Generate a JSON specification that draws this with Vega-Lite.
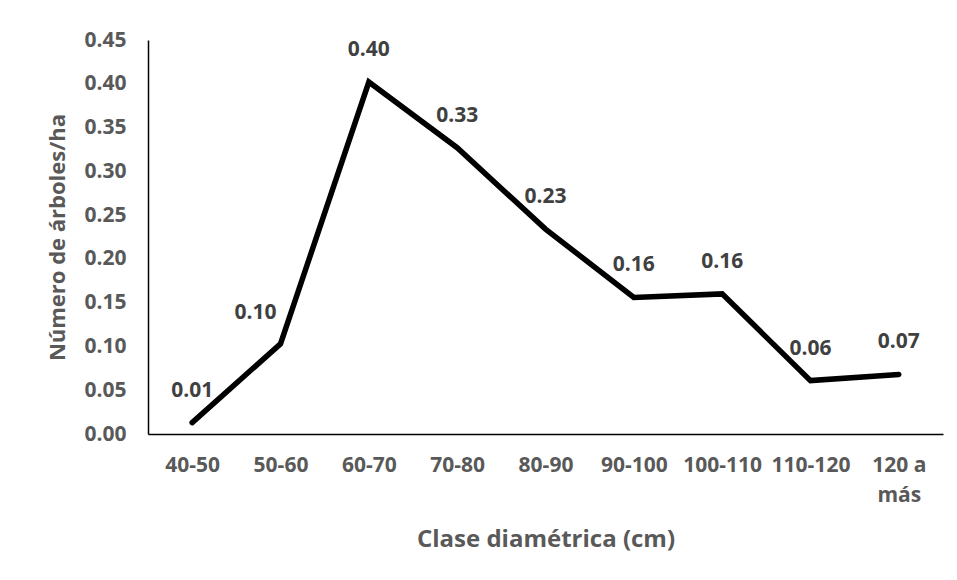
{
  "$schema": "https://vega.github.io/schema/vega-lite/v6.json",
  "autosize": "none",
  "width": 795,
  "height": 394,
  "padding": {"left": 148, "top": 40, "right": 14, "bottom": 146},
  "background": "white",
  "config": {"view": {"stroke": null}, "font": "Open Sans"},
  "data": {"values": [
    {"clase": "40-50", "valor": 0.013, "etiqueta": "0.01"},
    {"clase": "50-60", "valor": 0.103, "etiqueta": "0.10"},
    {"clase": "60-70", "valor": 0.402, "etiqueta": "0.40"},
    {"clase": "70-80", "valor": 0.327, "etiqueta": "0.33"},
    {"clase": "80-90", "valor": 0.234, "etiqueta": "0.23"},
    {"clase": "90-100", "valor": 0.156, "etiqueta": "0.16"},
    {"clase": "100-110", "valor": 0.160, "etiqueta": "0.16"},
    {"clase": "110-120", "valor": 0.061, "etiqueta": "0.06"},
    {"clase": "120 a más", "valor": 0.068, "etiqueta": "0.07"}
  ]},
  "encoding": {
    "x": {
      "field": "clase", "type": "ordinal", "sort": null,
      "scale": {"type": "point", "padding": 0.5},
      "axis": {
        "title": "Clase diamétrica (cm)",
        "labelAngle": 0,
        "labelFont": "Open Sans", "labelFontWeight": "bold", "labelFontSize": 21, "labelColor": "#595959",
        "labelPadding": 20, "labelLineHeight": 30,
        "labelExpr": "datum.label == '120 a más' ? ['120 a', 'más'] : datum.label",
        "ticks": false, "domainColor": "#000000", "domainWidth": 1.5,
        "titleFont": "Open Sans", "titleFontWeight": "bold", "titleFontSize": 24, "titleColor": "#595959",
        "titlePadding": 22
      }
    },
    "y": {
      "field": "valor", "type": "quantitative",
      "scale": {"domain": [0, 0.45], "nice": false},
      "axis": {
        "title": "Número de árboles/ha",
        "values": [0, 0.05, 0.1, 0.15, 0.2, 0.25, 0.3, 0.35, 0.4, 0.45],
        "format": ".2f", "grid": false, "ticks": false,
        "labelFont": "Open Sans", "labelFontWeight": "bold", "labelFontSize": 21, "labelColor": "#595959",
        "labelPadding": 22,
        "domainColor": "#000000", "domainWidth": 1.5,
        "titleFont": "Open Sans", "titleFontWeight": "bold", "titleFontSize": 22, "titleColor": "#595959",
        "titlePadding": 14
      }
    }
  },
  "layer": [
    {"mark": {"type": "line", "color": "#000000", "strokeWidth": 5.5, "strokeCap": "round", "strokeJoin": "miter"}},
    {
      "transform": [{"filter": "datum.clase != '50-60'"}],
      "mark": {"type": "text", "dy": -32, "font": "Open Sans", "fontWeight": "bold", "fontSize": 21, "color": "#404040"},
      "encoding": {"text": {"field": "etiqueta"}}
    },
    {
      "transform": [{"filter": "datum.clase == '50-60'"}],
      "mark": {"type": "text", "dy": -31, "dx": -25, "font": "Open Sans", "fontWeight": "bold", "fontSize": 21, "color": "#404040"},
      "encoding": {"text": {"field": "etiqueta"}}
    }
  ]
}
